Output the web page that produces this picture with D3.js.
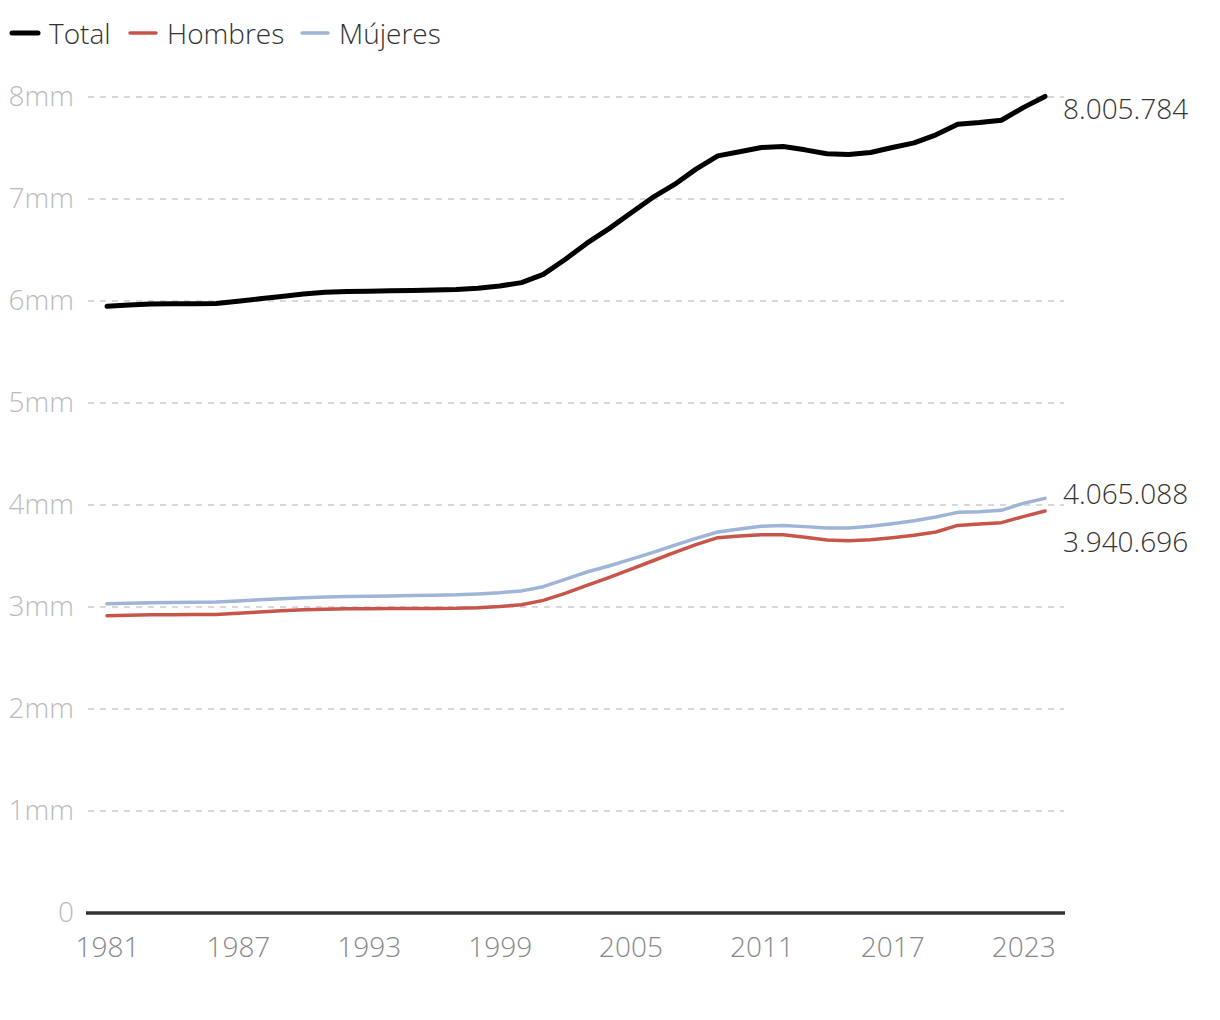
<!DOCTYPE html>
<html><head><meta charset="utf-8">
<script src="https://cdn.jsdelivr.net/npm/d3@7"></script>
<style>
html,body{margin:0;padding:0;background:#fff;}
text{font-family:"Open Sans",sans-serif;font-weight:300;}
</style></head>
<body><svg id="c" width="1220" height="1020"></svg>
<script>
const years = d3.range(1981, 2025);
const total = [5948000,5960000,5970000,5972000,5974000,5975000,5998000,6022000,6045000,6068000,
  6085000,6092000,6096000,6100000,6103000,6107000,6113000,6125000,6148000,6180000,
  6261000,6407000,6567000,6707000,6860000,7013000,7140000,7293000,7423000,7463000,
  7505000,7515000,7482000,7443000,7436000,7456000,7505000,7550000,7629000,7733000,
  7749000,7772000,7896000,8005784];
const hombres = [2915000,2920000,2924000,2925000,2926000,2926000,2938000,2952000,2963000,2972000,
  2979000,2982000,2984000,2985000,2985000,2986000,2987000,2993000,3005000,3022000,
  3065000,3134000,3212000,3288000,3369000,3451000,3533000,3611000,3680000,3696000,
  3709000,3709000,3683000,3657000,3650000,3660000,3680000,3703000,3735000,3800000,
  3814000,3827000,3886000,3940696];
const mujeres = [3033000,3037000,3041000,3044000,3047000,3050000,3060000,3071000,3082000,3091000,
  3098000,3102000,3106000,3109000,3112000,3115000,3119000,3128000,3140000,3158000,
  3199000,3271000,3343000,3402000,3467000,3533000,3605000,3673000,3735000,3765000,
  3791000,3800000,3788000,3775000,3775000,3791000,3817000,3846000,3882000,3928000,
  3935000,3948000,4016000,4065088];
const seriesNames = ["Total","Hombres","Mújeres"];
const seriesColors = ["#000000","#c8554a","#9fb4d6"];
const seriesWidths = [5,3.5,3.5];
const yTicks = [0,1e6,2e6,3e6,4e6,5e6,6e6,7e6,8e6];
const xTicks = [1981,1987,1993,1999,2005,2011,2017,2023];

const series = [total, hombres, mujeres];
const svg = d3.select("#c");
const x = d3.scaleLinear().domain([1981,2024]).range([107,1045]);
const y = d3.scaleLinear().domain([0,8e6]).range([913,97]);
const FS = 28;

// y axis labels
const yAxis = d3.axisLeft(y).tickValues(yTicks)
  .tickFormat(d => d===0 ? "0" : (d/1e6)+"mm").tickSize(0).tickPadding(0);
const ga = svg.append("g").attr("transform","translate(74,0)").call(yAxis);
ga.select(".domain").remove();
ga.selectAll("text").attr("font-size",FS).attr("fill","#bbbbbb")
  .attr("font-family","Open Sans").attr("font-weight",300);

// grid
svg.append("g").selectAll("line").data(yTicks.filter(d=>d>0)).join("line")
  .attr("x1",88).attr("x2",1064).attr("y1",d=>y(d)).attr("y2",d=>y(d))
  .attr("stroke","#cccccc").attr("stroke-width",1.5).attr("stroke-dasharray","6,6");

// baseline
svg.append("line").attr("x1",86).attr("x2",1065).attr("y1",y(0)).attr("y2",y(0))
  .attr("stroke","#333333").attr("stroke-width",3.5);

const xAxis = d3.axisBottom(x).tickValues(xTicks).tickFormat(d3.format("d")).tickSize(0).tickPadding(0);
const gx = svg.append("g").attr("transform","translate(0,937)").call(xAxis);
gx.select(".domain").remove();
gx.selectAll("text").attr("font-size",FS).attr("fill","#888888").attr("dy","0.71em")
  .attr("font-family","Open Sans").attr("font-weight",300);

// lines
const line = d3.line().x((d,i)=>x(years[i])).y(d=>y(d));
[2,1,0].forEach(k=>{
  svg.append("path").datum(series[k]).attr("d",line).attr("fill","none")
    .attr("stroke",seriesColors[k]).attr("stroke-width",seriesWidths[k])
    .attr("stroke-linejoin","round").attr("stroke-linecap","round");
});

// end labels with collision avoidance
const fmt = v => d3.format(",")(v).replace(/,/g,".");
let labs = series.map((s,k)=>({k, v:s[s.length-1], pos:y(s[s.length-1])+13}));
labs.sort((a,b)=>a.pos-b.pos);
const minGap = 48;
for (let it=0; it<20; it++){
  for (let i=1;i<labs.length;i++){
    const a=labs[i-1], b=labs[i];
    const ov = minGap-(b.pos-a.pos);
    if (ov>0){ a.pos-=ov/2; b.pos+=ov/2; }
  }
}
svg.append("g").selectAll("text").data(labs).join("text")
  .attr("x",1063).attr("y",d=>d.pos).attr("dy","0.35em")
  .attr("font-size",FS).attr("fill","#333333").text(d=>fmt(d.v));

// legend
const legX = [12,130,302];
const lg = svg.append("g");
seriesNames.forEach((n,k)=>{
  lg.append("line").attr("x1",legX[k]).attr("x2",legX[k]+26).attr("y1",33).attr("y2",33)
    .attr("stroke",seriesColors[k]).attr("stroke-width",k===0?5:3.5).attr("stroke-linecap","round");
  lg.append("text").attr("x",legX[k]+37).attr("y",34).attr("dy","0.35em")
    .attr("font-size",FS).attr("fill","#333333").text(n);
});
</script></body></html>
